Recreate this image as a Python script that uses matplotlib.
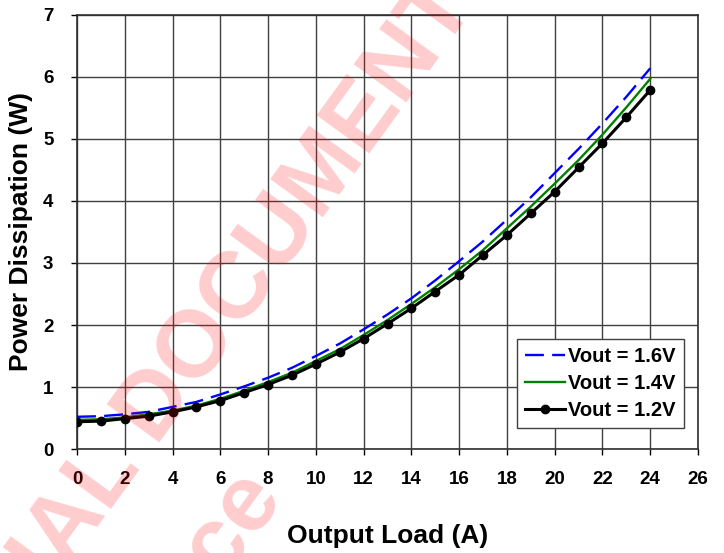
import matplotlib
matplotlib.use("Agg")
import matplotlib.pyplot as plt
import numpy as np

plt.rcParams['font.family'] = ['Liberation Sans', 'DejaVu Sans']
plt.rcParams['font.weight'] = 'bold'

# data
load_a = list(range(0, 25))
vout_16 = [0.52, 0.53, 0.56, 0.60, 0.68, 0.76, 0.88, 1.01, 1.15, 1.31, 1.50, 1.70, 1.93,
           2.17, 2.43, 2.72, 3.03, 3.35, 3.70, 4.06, 4.45, 4.84, 5.25, 5.68, 6.14]
vout_14 = [0.47, 0.48, 0.51, 0.56, 0.62, 0.70, 0.81, 0.94, 1.08, 1.23, 1.42, 1.61, 1.84,
           2.08, 2.34, 2.61, 2.90, 3.21, 3.56, 3.91, 4.28, 4.66, 5.07, 5.51, 5.97]
vout_12 = [0.44, 0.45, 0.49, 0.53, 0.60, 0.68, 0.78, 0.91, 1.04, 1.19, 1.37, 1.56, 1.78,
           2.02, 2.27, 2.54, 2.81, 3.13, 3.45, 3.80, 4.15, 4.54, 4.93, 5.35, 5.79]
labels = ['Vout = 1.6V', 'Vout = 1.4V', 'Vout = 1.2V']
x_ticks = list(range(0, 27, 2))
y_ticks = list(range(0, 8))

fig = plt.figure(figsize=(7.24, 5.53), dpi=100)
ax = fig.add_axes([0.1064, 0.188, 0.8577, 0.785])
ax.set_facecolor('none')

# watermark behind the grid
wm = dict(rotation=54, rotation_mode='anchor', ha='right', va='baseline',
          fontsize=68, color='#ff0000', alpha=0.2, fontweight='bold', zorder=0)
fig.text(0.660, 0.991, 'CONFIDENTIAL DOCUMENT', **wm)
fig.text(0.394, 0.0995, 'For Reference', **wm)

ax.plot(load_a, vout_16, color='#0000ff', lw=1.7, dashes=[8, 3.5], label=labels[0], zorder=3)
ax.plot(load_a, vout_14, color='#008000', lw=1.7, label=labels[1], zorder=4)
ax.plot(load_a, vout_12, color='black', lw=2.2, marker='o', markersize=6, label=labels[2], zorder=5)

ax.set_xlim(0, 26)
ax.set_ylim(0, 7)
ax.set_xticks(x_ticks)
ax.set_yticks(y_ticks)
ax.grid(True, color='#404040', lw=1.0)
ax.set_axisbelow(True)
for s in ax.spines.values():
    s.set_color('#303030')
    s.set_linewidth(1.2)
ax.tick_params(axis='both', direction='out', length=4, width=1, colors='black', labelsize=13.5)
ax.tick_params(axis='x', pad=12)
ax.tick_params(axis='y', pad=13)

ax.set_xlabel('Output Load (A)', fontsize=19, fontweight='bold', labelpad=26)
ax.set_ylabel('Power Dissipation (W)', fontsize=19, fontweight='bold', labelpad=7)

leg = ax.legend(loc='lower right', bbox_to_anchor=(0.977, 0.048), fontsize=14.5,
                fancybox=False, framealpha=1, edgecolor='#404040', handlelength=2.0,
                handletextpad=0.15, borderpad=0.4, labelspacing=0.4, borderaxespad=0)
leg.get_frame().set_linewidth(1.0)
for t in leg.get_texts():
    t.set_fontweight('bold')

fig.savefig('out.png', dpi=100)
